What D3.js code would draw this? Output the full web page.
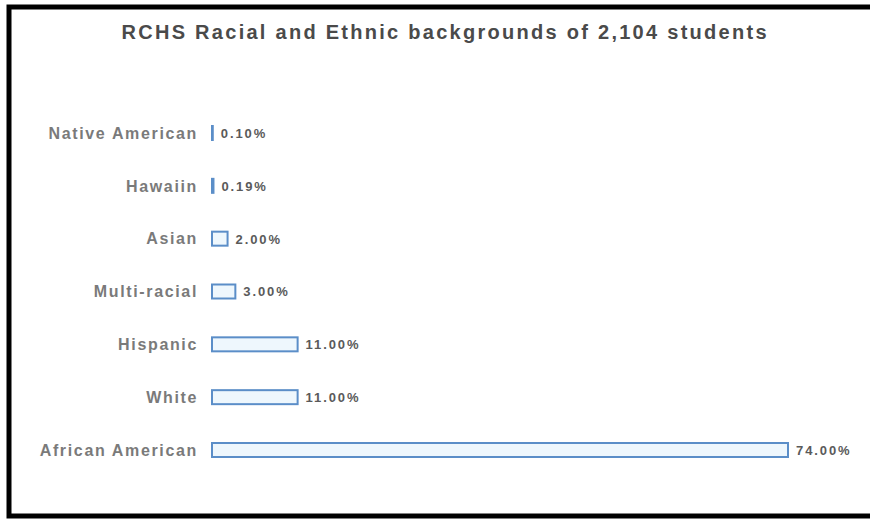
<!DOCTYPE html>
<html>
<head>
<meta charset="utf-8">
<style>
  body { margin: 0; background: #fff; }
  text { font-family: "Liberation Sans", Arial, sans-serif; }
</style>
</head>
<body>
<script src="https://d3js.org/d3.v7.min.js"></script>
<script>
// chart data, top to bottom
var categories = ["Native American", "Hawaiin", "Asian", "Multi-racial", "Hispanic", "White", "African American"];
var percents = [0.10, 0.19, 2.00, 3.00, 11.00, 11.00, 74.00];
var titleText = "RCHS Racial and Ethnic backgrounds of 2,104 students";

var width = 870, height = 519;

var svg = d3.select("body").append("svg")
    .attr("width", width)
    .attr("height", height);

// outer frame (black, runs off the right edge)
svg.append("rect")
    .attr("x", 9).attr("y", 7)
    .attr("width", 900).attr("height", 509)
    .attr("fill", "#fff")
    .attr("stroke", "#000")
    .attr("stroke-width", 5);

// title
svg.append("text")
    .attr("x", 444).attr("y", 39)
    .attr("text-anchor", "middle")
    .attr("font-size", 20)
    .attr("font-weight", "bold")
    .attr("fill", "#4a4a4a")
    .attr("textLength", 645)
    .attr("lengthAdjust", "spacing")
    .text(titleText);

var x = d3.scaleLinear()
    .domain([0, d3.max(percents)])
    .range([212, 788]);

var y = d3.scalePoint()
    .domain(categories)
    .range([133, 450]);

var barH = 14;
var rows = categories.map(function(c, i) { return { name: c, value: percents[i] }; });

// category labels
svg.selectAll(".cat")
    .data(rows)
    .enter().append("text")
    .attr("class", "cat")
    .attr("x", 198)
    .attr("y", function(d) { return y(d.name); })
    .attr("dy", "0.36em")
    .attr("text-anchor", "end")
    .attr("font-size", 16)
    .attr("font-weight", "bold")
    .attr("letter-spacing", 1.65)
    .attr("fill", "#7a7a7a")
    .text(function(d) { return d.name; });

// bars
svg.selectAll(".bar")
    .data(rows)
    .enter().append("rect")
    .attr("class", "bar")
    .attr("x", x(0))
    .attr("y", function(d) { return y(d.name) - barH / 2; })
    .attr("width", function(d) { return x(d.value) - x(0); })
    .attr("height", barH)
    .attr("fill", "#eef7fd")
    .attr("stroke", "#5b8ec8")
    .attr("stroke-width", 2);

// value labels
svg.selectAll(".val")
    .data(rows)
    .enter().append("text")
    .attr("class", "val")
    .attr("x", function(d) { return x(d.value) + 8; })
    .attr("y", function(d) { return y(d.name); })
    .attr("dy", "0.38em")
    .attr("font-size", 13)
    .attr("font-weight", "bold")
    .attr("letter-spacing", 1.9)
    .attr("fill", "#5a5a5a")
    .text(function(d) { return d.value.toFixed(2) + "%"; });
</script>
</body>
</html>
